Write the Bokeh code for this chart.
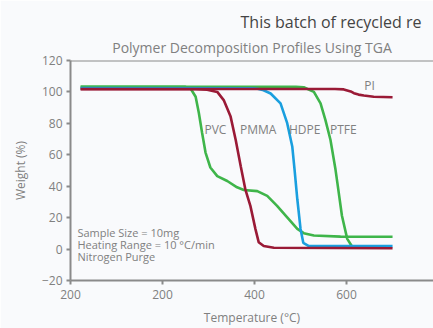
from bokeh.plotting import figure
from bokeh.models import Range1d, FixedTicker, Span, Label, Title
from bokeh.embed import file_html
from bokeh.resources import INLINE

# ---- data ----
pvc_t = [22, 250, 261, 272, 279, 286, 293.5, 304, 319, 340.7, 362, 376.7, 406, 427.6, 449, 471, 493, 507, 529, 587, 700]
pvc_w = [103.3, 103.2, 102.2, 96.9, 86.6, 74, 61.4, 51.9, 46.4, 43.3, 39.3, 37.6, 36.9, 33.8, 27.5, 20.2, 12.8, 10.1, 8.6, 7.9, 7.8]

pmma_t = [22, 272, 297, 319, 333, 348, 359, 370, 380, 391, 402, 409, 420, 442, 700]
pmma_w = [101.7, 101.7, 101.4, 100, 94.8, 84.3, 69.6, 52.7, 38, 27.5, 12.7, 4.4, 1.9, 0.8, 0.5]

hdpe_t = [22, 395, 406.5, 419.6, 435, 456.5, 471, 482, 487, 493, 500, 506, 518, 587, 700]
hdpe_w = [102.4, 102.3, 102, 101.1, 99, 92.7, 80.1, 65.3, 50.6, 31.7, 12.8, 4, 1.9, 1.9, 1.9]

ptfe_t = [22, 490, 507, 529, 543.5, 554, 565, 576, 580, 590, 601.5, 612, 630, 672]
ptfe_w = [103.3, 103.3, 103, 100, 92.7, 82.2, 69.6, 50.6, 42.3, 21.2, 6.5, 1.6, 0.9, 0.9]

pi_t = [22, 575, 594, 609, 616, 626, 637.6, 659, 700]
pi_w = [101.9, 101.9, 101.6, 100.3, 99.2, 98.3, 97.7, 96.9, 96.6]

x_ticks = [0, 200, 400, 600, 800]
x_tick_labels = {0: "200", 200: "200", 400: "400", 600: "600", 800: "800"}
y_ticks = [-20, 0, 20, 40, 60, 80, 100, 120]

labels = ["PVC", "PMMA", "HDPE", "PTFE", "PI"]
label_t = [315, 408, 509, 593, 650]
label_w = [76, 76, 76, 76, 104]

notes = ["Sample Size = 10mg", "Heating Range = 10 °C/min", "Nitrogen Purge"]
chart_title = "Polymer Decomposition Profiles Using TGA"
page_text = "This batch of recycled re"

GREEN = "#3fb54a"
BLUE = "#1a9fdf"
RED = "#9a1a36"
GREY = "#808080"
AXIS = "#8a8a8a"
BG = "#f9fafc"
FONT = "Open Sans"

p = figure(width=433, height=328, output_backend="svg", toolbar_location=None,
           x_range=Range1d(0, 789), y_range=Range1d(-20, 120), title=None,
           min_border_left=70, min_border_right=0, min_border_top=60, min_border_bottom=46)
p.background_fill_color = BG
p.border_fill_color = BG
p.outline_line_color = None
p.xgrid.visible = False
p.ygrid.visible = False

# chart title first (nearest the frame), page fragment last (outermost)
p.add_layout(Title(text=chart_title, align="center", standoff=7,
                   text_font=FONT, text_font_size="14px", text_font_style="normal",
                   text_color=GREY), "above")
p.add_layout(Title(text=page_text, align="left", offset=170, standoff=0,
                   text_font=FONT, text_font_size="16px", text_font_style="normal",
                   text_color="#444444"), "above")

for ax in (p.xaxis[0], p.yaxis[0]):
    ax.axis_line_color = AXIS
    ax.axis_line_width = 2
    ax.major_tick_line_color = AXIS
    ax.major_tick_line_width = 2
    ax.major_tick_out = 4
    ax.major_tick_in = 0
    ax.minor_tick_line_color = None
    ax.major_label_text_font = FONT
    ax.major_label_text_font_size = "12px"
    ax.major_label_text_color = GREY
    ax.axis_label_text_font = FONT
    ax.axis_label_text_font_size = "12px"
    ax.axis_label_text_font_style = "normal"
    ax.axis_label_text_color = GREY

p.xaxis.ticker = FixedTicker(ticks=x_ticks)
p.xaxis.major_label_overrides = x_tick_labels
p.xaxis.axis_label = "Temperature (°C)"
p.xaxis.major_label_standoff = 5
p.xaxis.axis_label_standoff = 7
p.yaxis.ticker = FixedTicker(ticks=y_ticks)
p.yaxis.axis_label = "Weight (%)"
p.yaxis.major_label_standoff = 4
p.yaxis.axis_label_standoff = 10

p.add_layout(Span(location=120, dimension="width", line_color=AXIS, line_width=2))

lw = 2.6
p.line(pvc_t, pvc_w, line_color=GREEN, line_width=lw)
p.line(ptfe_t, ptfe_w, line_color=GREEN, line_width=lw)
p.line(hdpe_t, hdpe_w, line_color=BLUE, line_width=lw)
p.line(pi_t, pi_w, line_color=RED, line_width=lw)
p.line(pmma_t, pmma_w, line_color=RED, line_width=lw)

for name, t, w in zip(labels, label_t, label_w):
    p.add_layout(Label(x=t, y=w, text=name, text_font=FONT, text_font_size="12px",
                       text_color=GREY, text_align="center", text_baseline="middle"))

for i, line in enumerate(notes):
    p.add_layout(Label(x=15, y=10.5 - i * 7.6, text=line, text_font=FONT, text_font_size="11px",
                       text_color=GREY, text_align="left", text_baseline="middle"))

open("out.html", "w").write(file_html(p, INLINE))
